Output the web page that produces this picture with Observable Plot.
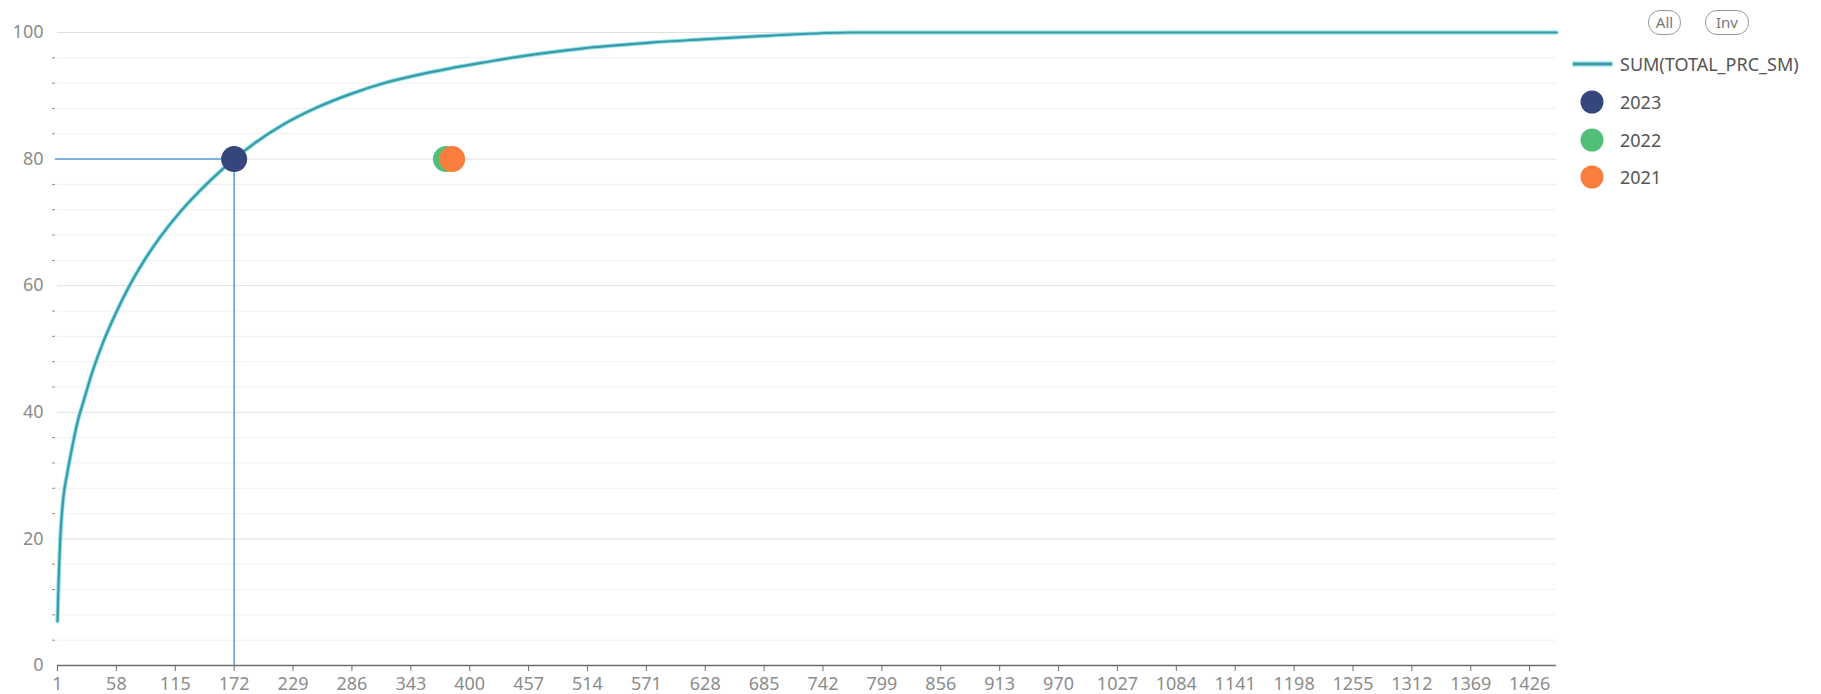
<!DOCTYPE html>
<html>
<head>
<meta charset="utf-8">
<script src="https://cdn.jsdelivr.net/npm/d3@7"></script>
<script src="https://cdn.jsdelivr.net/npm/@observablehq/plot@0.6"></script>
<style>
  body { margin: 0; background: #fff; font-family: "Noto Sans", sans-serif; }
  #wrap { position: relative; width: 1821px; height: 694px; overflow: hidden; }
  #chart { position: absolute; left: 0; top: 0; }
  .btn { position: absolute; top: 10px; height: 23px; border: 1px solid #9a9a9a; border-radius: 12px;
         font-size: 15px; line-height: 23px; color: #777; text-align: center; box-sizing: content-box; }
  .leg { position: absolute; left: 1620px; font-size: 18px; color: #555; line-height: 20px; transform: translateY(-50%); white-space: nowrap; }
  .sw-dot { position: absolute; width: 23px; height: 23px; border-radius: 50%; transform: translate(-50%, -50%); }
  .sw-line { position: absolute; left: 1573px; width: 39px; height: 3px; background: #3a9aa6; box-shadow: 0 0 2px 1px #8fe0ea; transform: translateY(-50%); }
</style>
</head>
<body>
<div id="wrap">
  <div id="chart"></div>
  <div id="legend"></div>
</div>
<script>
// ---- data ----
const rankX  = [1, 2, 3, 4, 5, 7, 10, 14, 20, 27, 35, 45, 57, 70, 85, 100, 120, 140, 160, 172, 190, 220, 250, 285, 315, 350, 380, 415, 445, 480, 510, 545, 575, 625, 690, 770, 1452];
const cumPct = [7, 13, 17.5, 21, 23.5, 27, 30, 33.5, 38.2, 42.2, 46.5, 51, 55.5, 59.8, 64.0, 67.6, 71.7, 75.2, 78.3, 80, 82.3, 85.5, 88, 90.3, 91.9, 93.3, 94.3, 95.3, 96.1, 96.9, 97.5, 98.0, 98.4, 98.9, 99.5, 100, 100];

const seriesName = "SUM(TOTAL_PRC_SM)";
const yearNames  = ["2023", "2022", "2021"];
const yearX      = [172, 377, 383];
const yearY      = [80, 80, 80];
const yearColors = ["#35467c", "#52be78", "#f97d3c"];

const xTicks  = [1, 58, 115, 172, 229, 286, 343, 400, 457, 514, 571, 628, 685, 742, 799, 856, 913, 970, 1027, 1084, 1141, 1198, 1255, 1312, 1369, 1426];
const yMajor  = [0, 20, 40, 60, 80, 100];
const yMinor  = [4, 8, 12, 16, 24, 28, 32, 36, 44, 48, 52, 56, 64, 68, 72, 76, 84, 88, 92, 96];
const xDomain = [1, 1452];

// ---- tables ----
const lineData = rankX.map((x, i) => ({x, y: cumPct[i]}));
const years = yearNames.map((name, i) => ({name, x: yearX[i], y: yearY[i], color: yearColors[i]}));
const focus = [years[0]];

const chart = Plot.plot({
  width: 1821,
  height: 694,
  marginLeft: 57,
  marginRight: 265,
  marginTop: 32,
  marginBottom: 29,
  style: { fontFamily: "Noto Sans, sans-serif", fontSize: "18px", background: "transparent" },
  x: { domain: xDomain },
  y: { domain: [0, 100] },
  marks: [
    Plot.gridY(yMinor, { stroke: "#f0f0f0", strokeOpacity: 1 }),
    Plot.gridY(yMajor.filter(v => v > 0), { stroke: "#e0e0e0", strokeOpacity: 1 }),
    Plot.axisY(yMinor, { tickSize: 3, dx: -2, stroke: "#8a8a8a", tickFormat: () => "", label: null }),
    Plot.axisY(yMajor, { tickSize: 0, tickPadding: 14, fill: "#8c8c8c", label: null }),
    Plot.axisX(xTicks, { tickSize: 6, tickPadding: 6, stroke: "#6e6e6e", fill: "#8c8c8c", tickFormat: d => String(d), label: null }),
    Plot.ruleY([0], { stroke: "#6e6e6e", strokeWidth: 1.3 }),
    Plot.ruleY(focus, { y: "y", x1: () => xDomain[0], x2: "x", stroke: "#5b9bd8", strokeWidth: 1.5, insetLeft: -2 }),
    Plot.ruleX(focus, { x: "x", y1: () => 0, y2: "y", stroke: "#5b9bd8", strokeWidth: 1.5, insetBottom: 11 }),
    Plot.line(lineData, { x: "x", y: "y", curve: "monotone-x", stroke: "#8fe0ea", strokeWidth: 4.2 }),
    Plot.line(lineData, { x: "x", y: "y", curve: "monotone-x", stroke: "#3a9aa6", strokeWidth: 2.2 }),
    Plot.dot(years, { x: "x", y: "y", r: 13, fill: d => d.color, stroke: null })
  ]
});
document.getElementById("chart").appendChild(chart);

// ---- legend ----
const leg = document.getElementById("legend");
const add = (html) => leg.insertAdjacentHTML("beforeend", html);
add(`<div class="btn" style="left:1648px;width:31px;">All</div>`);
add(`<div class="btn" style="left:1705px;width:42px;">Inv</div>`);
const legRows = [64, 102, 140, 177];
add(`<div class="sw-line" style="top:${legRows[0]}px;"></div>`);
add(`<div class="leg" style="top:${legRows[0]}px;">${seriesName}</div>`);
years.forEach((d, i) => {
  add(`<div class="sw-dot" style="left:1592px;top:${legRows[i + 1]}px;background:${d.color};"></div>`);
  add(`<div class="leg" style="top:${legRows[i + 1]}px;">${d.name}</div>`);
});
</script>
</body>
</html>
